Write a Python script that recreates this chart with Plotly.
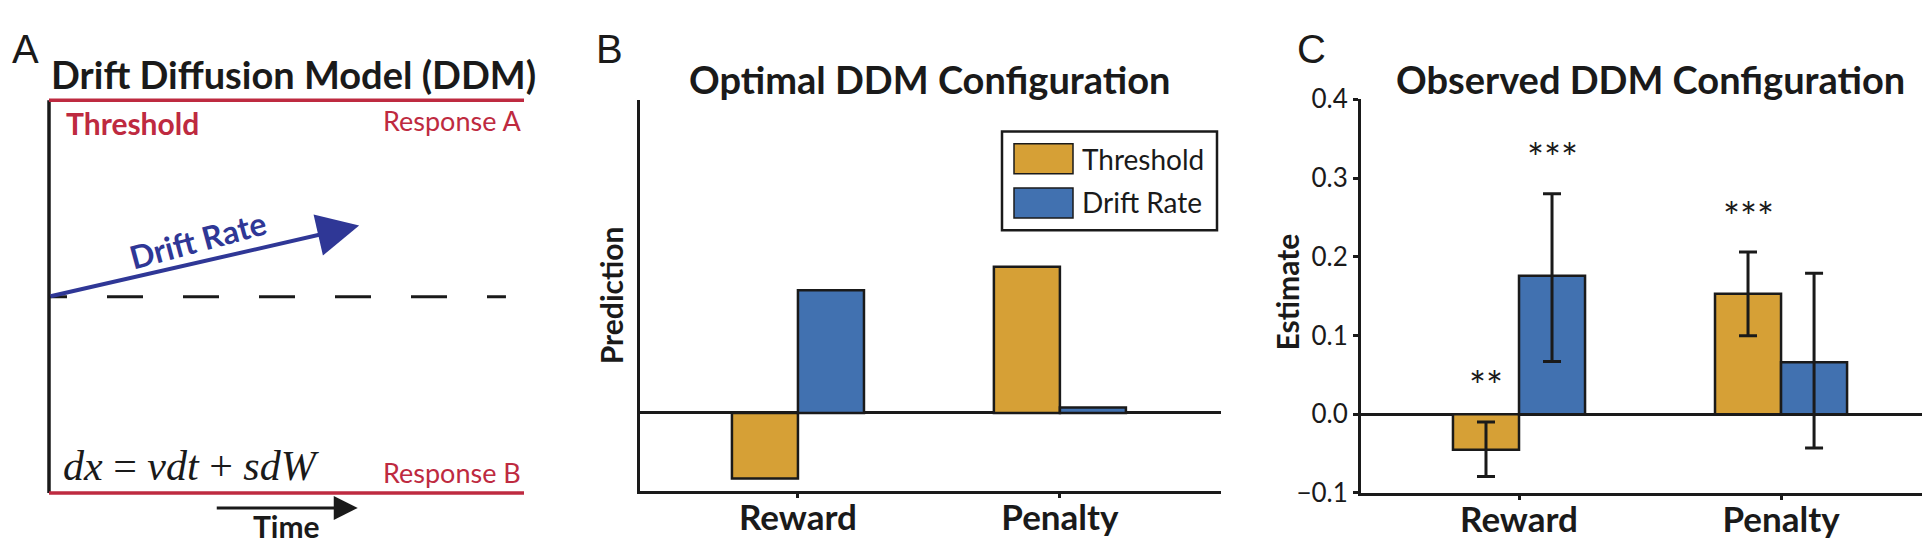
import plotly.graph_objects as go

W, H = 1930, 548

# ---------------- data ----------------
conditions = ["Reward", "Penalty"]

# Panel B: optimal (arbitrary units, no tick labels)
optimal_threshold = [-0.84, 1.87]
optimal_drift = [1.57, 0.07]

# Panel C: observed estimates with confidence bounds
observed_threshold = [-0.045, 0.153]
observed_threshold_lo = [-0.079, 0.0996]
observed_threshold_hi = [-0.0097, 0.206]
observed_drift = [0.176, 0.066]
observed_drift_lo = [0.067, -0.043]
observed_drift_hi = [0.280, 0.179]
threshold_stars = ["**", "***"]
drift_stars = ["***", ""]
c_tickvals = [-0.1, 0.0, 0.1, 0.2, 0.3, 0.4]
c_ticktext = ["\u22120.1", "0.0", "0.1", "0.2", "0.3", "0.4"]

# Panel A: schematic DDM (model units)
bound_upper = 1.0
bound_lower = 0.0
start_point = 0.5
time_range = [0.0, 1.0]
dashed_end = 0.962
drift_tip = [0.653, 0.681]
time_arrow_x = [0.35, 0.65]
time_arrow_y = -0.038

# ---------------- style ----------------
GOLD = "#D6A036"
BLUE = "#4171B0"
RED = "#BE2A40"
NAVY = "#2F3796"
INK = "#1a1a1a"
SANS = "Lato"


def px(x):
    return x / W


def py(y):
    return 1 - y / H


fig = go.Figure()

# ---------- Panel A (diagram) ----------
fig.add_trace(go.Scatter(x=[time_range[0], time_range[0]], y=[bound_lower, bound_upper],
                         mode="lines", line=dict(color=INK, width=3.5),
                         xaxis="x", yaxis="y", showlegend=False, hoverinfo="skip"))
fig.add_trace(go.Scatter(x=time_range, y=[bound_upper, bound_upper], mode="lines",
                         line=dict(color=RED, width=3.5), xaxis="x", yaxis="y",
                         showlegend=False, hoverinfo="skip"))
fig.add_trace(go.Scatter(x=time_range, y=[bound_lower, bound_lower], mode="lines",
                         line=dict(color=RED, width=3.5), xaxis="x", yaxis="y",
                         showlegend=False, hoverinfo="skip"))
fig.add_trace(go.Scatter(x=[time_range[0], dashed_end], y=[start_point, start_point], mode="lines",
                         line=dict(color=INK, width=3,
                                   dash="18px,40px,36px,40px,36px,40px,36px,40px,36px,40px,36px,40px,36px,40px"),
                         xaxis="x", yaxis="y", showlegend=False, hoverinfo="skip"))

# ---------- Panel B ----------
fig.add_trace(go.Bar(x=conditions, y=optimal_threshold, name="Threshold",
                     marker=dict(color=GOLD, line=dict(color=INK, width=2.5)),
                     xaxis="x2", yaxis="y2", showlegend=False))
fig.add_trace(go.Bar(x=conditions, y=optimal_drift, name="Drift Rate",
                     marker=dict(color=BLUE, line=dict(color=INK, width=2.5)),
                     xaxis="x2", yaxis="y2", showlegend=False))

# ---------- Panel C ----------
th_plus = [h - v for h, v in zip(observed_threshold_hi, observed_threshold)]
th_minus = [v - l for l, v in zip(observed_threshold_lo, observed_threshold)]
dr_plus = [h - v for h, v in zip(observed_drift_hi, observed_drift)]
dr_minus = [v - l for l, v in zip(observed_drift_lo, observed_drift)]

fig.add_trace(go.Bar(x=conditions, y=observed_threshold, name="Threshold",
                     marker=dict(color=GOLD, line=dict(color=INK, width=2.5)),
                     error_y=dict(type="data", symmetric=False, array=th_plus, arrayminus=th_minus,
                                  color=INK, thickness=3, width=9),
                     xaxis="x3", yaxis="y3", showlegend=False))
fig.add_trace(go.Bar(x=conditions, y=observed_drift, name="Drift Rate",
                     marker=dict(color=BLUE, line=dict(color=INK, width=2.5)),
                     error_y=dict(type="data", symmetric=False, array=dr_plus, arrayminus=dr_minus,
                                  color=INK, thickness=3, width=9),
                     xaxis="x3", yaxis="y3", showlegend=False))

BARGAP = 0.496
half = (1 - BARGAP) / 4  # offset of each bar centre from category centre

annotations = []
shapes = []

STAR_GAP = 0.045
for i, (s, hi) in enumerate(zip(threshold_stars, observed_threshold_hi)):
    if s:
        annotations.append(dict(x=i - half, y=hi + STAR_GAP, xref="x3", yref="y3", text=s,
                                showarrow=False, yanchor="middle",
                                font=dict(family=SANS, size=40, color=INK)))
for i, (s, hi) in enumerate(zip(drift_stars, observed_drift_hi)):
    if s:
        annotations.append(dict(x=i + half, y=hi + STAR_GAP, xref="x3", yref="y3", text=s,
                                showarrow=False, yanchor="middle",
                                font=dict(family=SANS, size=40, color=INK)))

# Panel A arrows
annotations.append(dict(x=drift_tip[0], y=drift_tip[1], ax=time_range[0], ay=start_point,
                        xref="x", yref="y", axref="x", ayref="y", text="", showarrow=True,
                        arrowhead=2, arrowsize=2.1, arrowwidth=4, arrowcolor=NAVY, standoff=0))
annotations.append(dict(x=time_arrow_x[1], y=time_arrow_y, ax=time_arrow_x[0], ay=time_arrow_y,
                        xref="x", yref="y", axref="x", ayref="y", text="", showarrow=True,
                        arrowhead=2, arrowsize=1.6, arrowwidth=3, arrowcolor=INK, standoff=0))


def label(text, x, y, size, color=INK, family=SANS, xanchor="center", yanchor="middle", angle=0):
    annotations.append(dict(x=px(x), y=py(y), xref="paper", yref="paper", text=text,
                            showarrow=False, xanchor=xanchor, yanchor=yanchor, textangle=angle,
                            font=dict(family=family, size=size, color=color)))


# panel letters
label("A", 2, 25, 40, family="Liberation Sans", xanchor="left")
label("B", 586, 26, 40, family="Liberation Sans", xanchor="left")
label("C", 1287, 26, 40, family="Liberation Sans", xanchor="left")

# titles
label("<b>Drift Diffusion Model (DDM)</b>", 285, 52, 38)
label("<b>Optimal DDM Configuration</b>", 922, 57, 38)
label("<b>Observed DDM Configuration</b>", 1642, 57, 38)

# panel A labels
label("<b>Threshold</b>", 56, 104, 30, color=RED, xanchor="left")
label("Response A", 515, 101, 27, color=RED, xanchor="right")
label("Response B", 515, 475, 27, color=RED, xanchor="right")
label("<b>Drift Rate</b>", 190, 228, 32, color=NAVY, angle=-15)
label("<i>dx</i> = <i>vdt</i> + <i>sdW</i>", 53, 468, 42, family="Liberation Serif", xanchor="left")
label("<b>Time</b>", 278, 532, 30)

# y-axis titles
label("<b>Prediction</b>", 603, 287, 30, angle=-90)
label("<b>Estimate</b>", 1279, 284, 30, angle=-90)

# legend (panel B)
shapes.append(dict(type="rect", xref="paper", yref="paper", x0=px(994), x1=px(1209), y0=py(113), y1=py(218),
                   line=dict(color=INK, width=2.5), fillcolor="white", layer="above"))
shapes.append(dict(type="rect", xref="paper", yref="paper", x0=px(1006), x1=px(1065), y0=py(126), y1=py(158),
                   line=dict(color=INK, width=1.5), fillcolor=GOLD, layer="above"))
shapes.append(dict(type="rect", xref="paper", yref="paper", x0=px(1006), x1=px(1065), y0=py(173), y1=py(205),
                   line=dict(color=INK, width=1.5), fillcolor=BLUE, layer="above"))
label("Threshold", 1072, 142, 28, xanchor="left")
label("Drift Rate", 1072, 188, 28, xanchor="left")

axis_common = dict(showgrid=False, showline=True, linecolor=INK, linewidth=3, zeroline=False)
cat_ticktext = ["<b>%s</b>" % c for c in conditions]

fig.update_layout(
    width=W, height=H,
    margin=dict(l=0, r=0, t=0, b=0),
    paper_bgcolor="white", plot_bgcolor="white",
    font=dict(family=SANS, color=INK),
    barmode="group", bargap=BARGAP, bargroupgap=0,
    showlegend=False,
    annotations=annotations,
    shapes=shapes,
    # Panel A
    xaxis=dict(domain=[0, px(540)], range=[-41 / 475, 499 / 475], visible=False, fixedrange=True),
    yaxis=dict(domain=[0, 1], range=[(497 - 548) / 417, 497 / 417], visible=False, fixedrange=True),
    # Panel B
    xaxis2=dict(domain=[px(632), px(1213)], anchor="y2", type="category", range=[-0.603, 1.615],
                tickvals=conditions, ticktext=cat_ticktext,
                ticks="outside", ticklen=4, tickwidth=2.5, tickcolor=INK, ticklabelstandoff=-10,
                tickfont=dict(family=SANS, size=35, color=INK), **axis_common),
    yaxis2=dict(domain=[py(495), py(80)], anchor="x2", range=[-1, 4], showticklabels=False,
                ticks="", showgrid=False, showline=True, linecolor=INK, linewidth=3,
                zeroline=True, zerolinecolor=INK, zerolinewidth=3),
    # Panel C
    xaxis3=dict(domain=[px(1353), 1.0], anchor="y3", type="category", range=[-0.603, 1.599],
                tickvals=conditions, ticktext=cat_ticktext,
                ticks="outside", ticklen=4, tickwidth=2.5, tickcolor=INK, ticklabelstandoff=-10,
                tickfont=dict(family=SANS, size=35, color=INK), **axis_common),
    yaxis3=dict(domain=[py(497), py(79)], anchor="x3", range=[-0.1, 0.4],
                tickvals=c_tickvals, ticktext=c_ticktext, ticks="outside", ticklen=5, tickwidth=2.5,
                tickcolor=INK, tickfont=dict(family=SANS, size=26, color=INK),
                showgrid=False, showline=True, linecolor=INK, linewidth=3,
                zeroline=True, zerolinecolor=INK, zerolinewidth=3),
)

fig.write_html("out.html")
